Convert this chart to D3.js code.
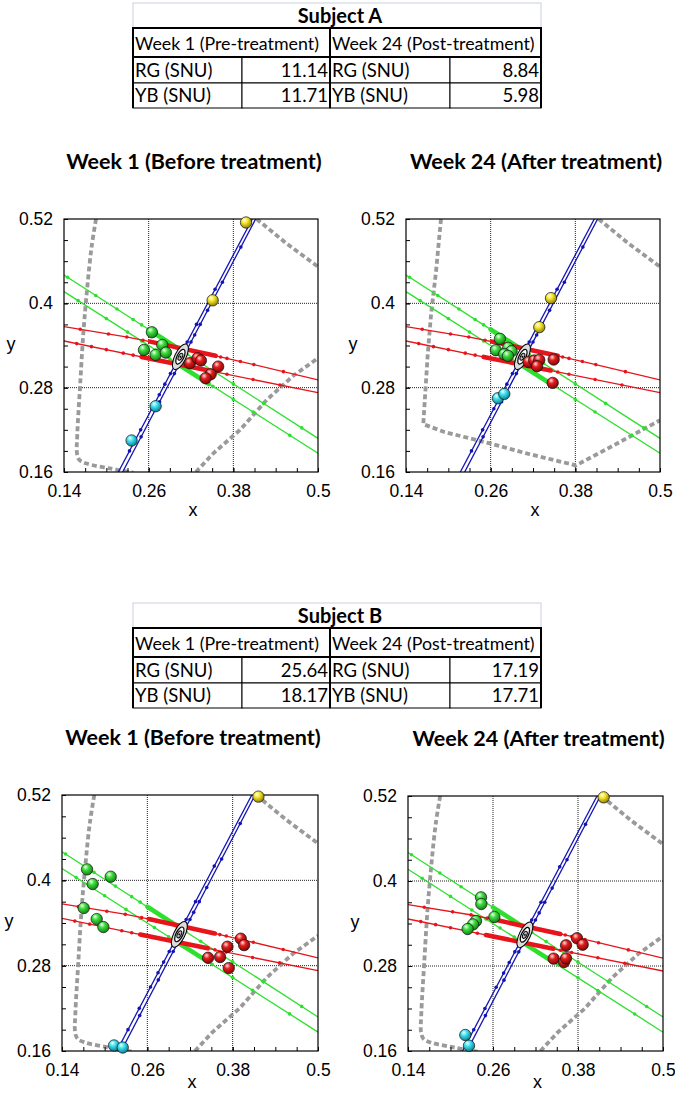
<!DOCTYPE html>
<html>
<head>
<meta charset="utf-8">
<script src="https://cdnjs.cloudflare.com/ajax/libs/d3/7.8.5/d3.min.js"></script>
<style>
  body { margin: 0; background: #fff; }
  svg text { fill: #000; }
</style>
</head>
<body>
<div id="chart"></div>
<script>

// ---- table values ----
var subjects = ['Subject A', 'Subject B'];
var weekHeaders = ['Week 1 (Pre-treatment)', 'Week 24 (Post-treatment)'];
var rowLabels = ['RG (SNU)', 'YB (SNU)'];
var subjectAWeek1 = [11.14, 11.71];
var subjectAWeek24 = [8.84, 5.98];
var subjectBWeek1 = [25.64, 18.17];
var subjectBWeek24 = [17.19, 17.71];

// ---- chart axes ----
var plotTitles = ['Week 1 (Before treatment)', 'Week 24 (After treatment)'];
var xTicks = [0.14, 0.26, 0.38, 0.5];
var yTicks = [0.16, 0.28, 0.4, 0.52];
var gridX = [0.26, 0.38];
var gridY = [0.28, 0.4];

// ---- confusion lines (same in every panel) ----
var redUpper = [[0.14, 0.3668], [0.23, 0.352], [0.304, 0.337], [0.40, 0.315], [0.5, 0.291]];
var redLower = [[0.14, 0.3464], [0.30, 0.3135], [0.5, 0.2729]];
var greenUpper = [[0.14, 0.4403], [0.5, 0.2079]];
var greenLower = [[0.14, 0.4166], [0.5, 0.1866]];
var blueLeft = [[0.217, 0.16], [0.4069, 0.52]];
var blueRight = [[0.2231, 0.16], [0.4116, 0.52]];

var redUpperDots = [0.163, 0.203, 0.229, 0.252, 0.266, 0.353, 0.362, 0.371, 0.390, 0.409, 0.451];
var redLowerDots = [0.158, 0.179, 0.2, 0.224, 0.238, 0.252, 0.342, 0.355, 0.371, 0.408, 0.446];
var greenUpperDots = [0.145, 0.185, 0.215, 0.238, 0.25, 0.315, 0.335, 0.38, 0.423, 0.477];
var greenLowerDots = [0.16, 0.2, 0.23, 0.25, 0.27, 0.29, 0.351, 0.38, 0.408, 0.46];
var blueLeftDots = [0.19, 0.22, 0.25, 0.27, 0.285, 0.30, 0.31, 0.345, 0.37, 0.42];
var blueRightDots = [0.21, 0.26, 0.30, 0.335, 0.345, 0.355, 0.37, 0.39, 0.43, 0.48];

var redUpperBand = [0.262, 0.355];
var redLowerBand = [0.25, 0.345];
var greenUpperBand = [0.26, 0.305];
var greenLowerBand = [0.305, 0.345];

var whitePoint = [0.305, 0.324];

// ---- gamut boundaries (grey dotted) ----
var boundaryLeft = [[0.1854, 0.52], [0.1792, 0.481], [0.1731, 0.424], [0.1674, 0.357], [0.1627, 0.281],
  [0.1589, 0.215], [0.1585, 0.186], [0.162, 0.177], [0.1721, 0.172], [0.2052, 0.165], [0.2383, 0.159]];
var boundaryLowerRight = [[0.327, 0.16], [0.3517, 0.1866], [0.3894, 0.2198], [0.4272, 0.2625], [0.465, 0.297], [0.5, 0.322]];
var boundaryTopRight = [[0.413, 0.52], [0.4555, 0.485], [0.5, 0.452]];
var boundaryA24 = [[0.1896, 0.52], [0.1825, 0.445], [0.1754, 0.383], [0.1707, 0.326], [0.1645, 0.228],
  [0.1943, 0.217], [0.2604, 0.2003], [0.3123, 0.1861], [0.3807, 0.1694], [0.4256, 0.1932], [0.5, 0.2336]];

// ---- subject points ----
var aW1Green = [[0.2646, 0.3588], [0.2793, 0.3408], [0.2533, 0.3337], [0.2698, 0.3266], [0.2844, 0.3299]];
var aW1Red = [[0.3184, 0.3148], [0.3293, 0.3219], [0.334, 0.3186], [0.3585, 0.31], [0.3479, 0.2991], [0.3407, 0.2934]];
var aW1Yellow = [[0.398, 0.515], [0.3507, 0.4043]];
var aW1Cyan = [[0.2699, 0.2536], [0.2358, 0.2048]];

var aW24Green = [[0.2731, 0.3495], [0.2674, 0.3333], [0.2849, 0.3367], [0.2896, 0.3319], [0.2792, 0.3276], [0.2844, 0.3253]];
var aW24Red = [[0.3138, 0.3167], [0.3218, 0.3186], [0.3289, 0.3195], [0.3257, 0.3105], [0.3493, 0.32], [0.3479, 0.2868]];
var aW24Yellow = [[0.3455, 0.4074], [0.3289, 0.3661]];
var aW24Cyan = [[0.2703, 0.2649], [0.2793, 0.2711]];

var bW1Green = [[0.1752, 0.4154], [0.2085, 0.4051], [0.1831, 0.3948], [0.1705, 0.361], [0.1888, 0.3455], [0.1982, 0.3343]];
var bW1Red = [[0.3914, 0.3179], [0.3961, 0.3089], [0.3726, 0.3066], [0.3454, 0.2911], [0.3623, 0.2921], [0.3745, 0.2766]];
var bW1Yellow = [[0.4162, 0.5177]];
var bW1Cyan = [[0.2132, 0.1678], [0.2254, 0.1649]];

var bW24Green = [[0.2431, 0.3769], [0.2435, 0.3675], [0.2619, 0.3492], [0.236, 0.3435], [0.2318, 0.3388], [0.2242, 0.3322]];
var bW24Red = [[0.3786, 0.3191], [0.3866, 0.3101], [0.3631, 0.3092], [0.3456, 0.2904], [0.3602, 0.2856], [0.3631, 0.2908]];
var bW24Yellow = [[0.4162, 0.5181]];
var bW24Cyan = [[0.2209, 0.1826], [0.2261, 0.1675]];


var svg = d3.select('#chart').append('svg')
  .attr('width', 675).attr('height', 1095);
var defs = svg.append('defs');

var sphereColors = {
  green: ['#f0fff0', '#3cdc3c', '#137a13'],
  red: ['#ffe0e0', '#e41c1c', '#7a0606'],
  yellow: ['#fffff0', '#f6e62a', '#8a7a06'],
  cyan: ['#f0ffff', '#3ce0f0', '#0d7888']
};
Object.keys(sphereColors).forEach(function(k) {
  var c = sphereColors[k];
  var grad = defs.append('radialGradient').attr('id', 'sph-' + k)
    .attr('cx', '0.42').attr('cy', '0.36').attr('r', '0.66')
    .attr('fx', '0.36').attr('fy', '0.28');
  grad.append('stop').attr('offset', '0').attr('stop-color', c[0]);
  grad.append('stop').attr('offset', '0.4').attr('stop-color', c[1]);
  grad.append('stop').attr('offset', '1').attr('stop-color', c[2]);
});

var tableFont = 'Lato, "Open Sans", sans-serif';
var axisFont = '"Liberation Sans", Arial, sans-serif';

function drawTable(top, title, week1, week24) {
  var cols = [133, 242, 330, 450, 541];
  var rows = [top + 28, top + 57, top + 83, top + 108];
  var g = svg.append('g');

  g.append('rect').attr('x', cols[0]).attr('y', top + 3)
    .attr('width', cols[4] - cols[0]).attr('height', 25)
    .attr('fill', '#fff').attr('stroke', '#c9d0dc').attr('stroke-width', 1);
  g.append('text').attr('x', (cols[0] + cols[4]) / 2 + 3).attr('y', top + 23)
    .attr('text-anchor', 'middle').style('font-family', tableFont)
    .style('font-weight', 'bold').style('font-size', '20px').text(title);

  // data cells
  [week1, week24].forEach(function(vals, h) {
    vals.forEach(function(v, r) {
      var xl = cols[h * 2], xm = cols[h * 2 + 1], xr = cols[h * 2 + 2];
      var y0 = rows[r + 1], y1 = rows[r + 2];
      g.append('rect').attr('x', xl).attr('y', y0).attr('width', xm - xl).attr('height', y1 - y0)
        .attr('fill', '#fff').attr('stroke', '#000').attr('stroke-width', 1);
      g.append('rect').attr('x', xm).attr('y', y0).attr('width', xr - xm).attr('height', y1 - y0)
        .attr('fill', '#fff').attr('stroke', '#000').attr('stroke-width', 1);
      g.append('text').attr('x', xl + 2).attr('y', y1 - 6)
        .style('font-family', tableFont).style('font-size', '18.5px').text(rowLabels[r]);
      g.append('text').attr('x', xr - 2).attr('y', y1 - 6).attr('text-anchor', 'end')
        .style('font-family', tableFont).style('font-size', '18.5px').text(v.toFixed(2));
    });
  });
  // outer and divider lines slightly heavier
  [cols[0], cols[2], cols[4]].forEach(function(cx) {
    g.append('line').attr('x1', cx).attr('x2', cx).attr('y1', rows[1]).attr('y2', rows[3])
      .attr('stroke', '#000').attr('stroke-width', 2);
  });

  // header cells
  weekHeaders.forEach(function(t, h) {
    var xl = cols[h * 2], xr = cols[h * 2 + 2];
    g.append('rect').attr('x', xl).attr('y', rows[0]).attr('width', xr - xl).attr('height', rows[1] - rows[0])
      .attr('fill', '#fff').attr('stroke', '#000').attr('stroke-width', 2);
    g.append('text').attr('x', xl + 2).attr('y', rows[1] - 7)
      .style('font-family', tableFont).style('font-size', '17.8px').text(t);
  });
}

drawTable(0, subjects[0], subjectAWeek1, subjectAWeek24);
drawTable(600, subjects[1], subjectBWeek1, subjectBWeek24);

function interpX(pts, xv) {
  for (var i = 0; i < pts.length - 1; i++) {
    var a = pts[i], b = pts[i + 1];
    if (xv >= a[0] && xv <= b[0]) return [xv, a[1] + (b[1] - a[1]) * (xv - a[0]) / (b[0] - a[0])];
  }
  return pts[pts.length - 1];
}
function interpY(pts, yv) {
  var a = pts[0], b = pts[1];
  return [a[0] + (b[0] - a[0]) * (yv - a[1]) / (b[1] - a[1]), yv];
}

var panels = [
  { box: [64, 318, 219, 472], xLab: 44, title: plotTitles[0], green: aW1Green, red: aW1Red, yellow: aW1Yellow, cyan: aW1Cyan,
    bounds: [boundaryLeft, boundaryLowerRight, boundaryTopRight], smooth: true },
  { box: [406, 660, 219, 472], xLab: 44, title: plotTitles[1], green: aW24Green, red: aW24Red, yellow: aW24Yellow, cyan: aW24Cyan,
    bounds: [boundaryA24, boundaryTopRight], smooth: false },
  { box: [62, 318, 795, 1051], xLab: 37, title: plotTitles[0], green: bW1Green, red: bW1Red, yellow: bW1Yellow, cyan: bW1Cyan,
    bounds: [boundaryLeft, boundaryLowerRight, boundaryTopRight], smooth: true },
  { box: [408, 663, 796, 1051], xLab: 37, title: plotTitles[1], green: bW24Green, red: bW24Red, yellow: bW24Yellow, cyan: bW24Cyan,
    bounds: [boundaryLeft, boundaryLowerRight, boundaryTopRight], smooth: true }
];

panels.forEach(function(p, idx) {
  var x0 = p.box[0], x1 = p.box[1], y0 = p.box[2], y1 = p.box[3];
  var x = d3.scaleLinear().domain([0.14, 0.5]).range([x0, x1]);
  var y = d3.scaleLinear().domain([0.16, 0.52]).range([y1, y0]);
  var g = svg.append('g');

  defs.append('clipPath').attr('id', 'clip' + idx).append('rect')
    .attr('x', x0).attr('y', y0).attr('width', x1 - x0).attr('height', y1 - y0);

  // title
  g.append('text').attr('x', (x0 + x1) / 2 + 3).attr('y', y0 - 50)
    .attr('text-anchor', 'middle').style('font-family', tableFont)
    .style('font-weight', 'bold').style('font-size', '21.5px').text(p.title);

  // grid
  gridX.forEach(function(v) {
    g.append('line').attr('x1', x(v)).attr('x2', x(v)).attr('y1', y0).attr('y2', y1)
      .attr('stroke', '#222').attr('stroke-width', 1).attr('stroke-dasharray', '1,1');
  });
  gridY.forEach(function(v) {
    g.append('line').attr('x1', x0).attr('x2', x1).attr('y1', y(v)).attr('y2', y(v))
      .attr('stroke', '#222').attr('stroke-width', 1).attr('stroke-dasharray', '1,1');
  });

  var plot = g.append('g').attr('clip-path', 'url(#clip' + idx + ')');
  var line = d3.line().x(function(d) { return x(d[0]); }).y(function(d) { return y(d[1]); });

  // grey gamut boundaries
  p.bounds.forEach(function(b, i) {
    var gen = d3.line().x(function(d) { return x(d[0]); }).y(function(d) { return y(d[1]); })
      .curve(p.smooth && i === 0 ? d3.curveCatmullRom.alpha(0.5) : d3.curveLinear);
    plot.append('path').attr('d', gen(b)).attr('fill', 'none')
      .attr('stroke', '#9a9a9a').attr('stroke-width', 3.8).attr('stroke-dasharray', '5,3');
  });

  // confusion lines
  function confusion(pts, dots, band, color, byY) {
    plot.append('path').attr('d', line(pts)).attr('fill', 'none')
      .attr('stroke', color).attr('stroke-width', 1.3);
    if (band) {
      var a = interpX(pts, band[0]), b = interpX(pts, band[1]);
      plot.append('path').attr('d', line([a, b])).attr('fill', 'none')
        .attr('stroke', color).attr('stroke-width', 4.6).attr('stroke-linecap', 'round');
    }
    plot.selectAll(null).data(dots).enter().append('circle')
      .attr('cx', function(d) { return x((byY ? interpY(pts, d) : interpX(pts, d))[0]); })
      .attr('cy', function(d) { return y((byY ? interpY(pts, d) : interpX(pts, d))[1]); })
      .attr('r', 1.8).attr('fill', color);
  }
  confusion(greenUpper, greenUpperDots, greenUpperBand, '#2ee02e');
  confusion(greenLower, greenLowerDots, greenLowerBand, '#2ee02e');
  confusion(redUpper, redUpperDots, redUpperBand, '#e8141b');
  confusion(redLower, redLowerDots, redLowerBand, '#e8141b');
  confusion(blueLeft, blueLeftDots, null, '#1414b4', true);
  confusion(blueRight, blueRightDots, null, '#1414b4', true);

  // threshold ellipse at the white point
  var eg = g.append('g').attr('transform', 'translate(' + x(whitePoint[0]) + ',' + y(whitePoint[1]) + ') rotate(-64)');
  eg.append('ellipse').attr('rx', 14).attr('ry', 5.6).attr('fill', '#dcdcdc').attr('stroke', '#000').attr('stroke-width', 1);
  eg.append('ellipse').attr('rx', 8).attr('ry', 3.4).attr('fill', '#fafafa').attr('stroke', '#000').attr('stroke-width', 1.2);
  eg.append('ellipse').attr('rx', 3.8).attr('ry', 1.9).attr('fill', '#bbb').attr('stroke', '#000').attr('stroke-width', 1);
  eg.append('circle').attr('r', 0.9).attr('fill', '#000');

  // frame
  g.append('rect').attr('x', x0).attr('y', y0).attr('width', x1 - x0).attr('height', y1 - y0)
    .attr('fill', 'none').attr('stroke', '#000').attr('stroke-width', 1.2);

  // axes
  var minorX = d3.range(0.14, 0.5001, 0.03), minorY = d3.range(0.16, 0.5201, 0.03);
  var ax = g.append('g').attr('transform', 'translate(0,' + y1 + ')')
    .call(d3.axisBottom(x).tickValues(minorX).tickSize(-4).tickFormat(''));
  var ax2 = g.append('g').attr('transform', 'translate(0,' + y1 + ')')
    .call(d3.axisBottom(x).tickValues(xTicks).tickSize(-4).tickPadding(13).tickFormat(function(d) { return String(d); }));
  var ay = g.append('g').attr('transform', 'translate(' + x0 + ',0)')
    .call(d3.axisLeft(y).tickValues(minorY).tickSize(-4).tickFormat(''));
  var ay2 = g.append('g').attr('transform', 'translate(' + x0 + ',0)')
    .call(d3.axisLeft(y).tickValues(yTicks).tickSize(-4).tickPadding(11).tickFormat(function(d) { return String(d); }));
  [ax, ax2, ay, ay2].forEach(function(a) {
    a.select('.domain').remove();
    a.selectAll('line').attr('stroke', '#000');
    a.selectAll('text').style('font-family', axisFont).style('font-size', '17.5px').attr('fill', '#000');
  });

  g.append('text').attr('x', (x0 + x1) / 2 + 2).attr('y', y1 + p.xLab).attr('text-anchor', 'middle')
    .style('font-family', axisFont).style('font-size', '18px').text('x');
  g.append('text').attr('x', x0 - 53).attr('y', (y0 + y1) / 2 + 4).attr('text-anchor', 'middle')
    .style('font-family', axisFont).style('font-size', '18px').text('y');

  // measured points
  [['green', p.green], ['red', p.red], ['yellow', p.yellow], ['cyan', p.cyan]].forEach(function(s) {
    g.selectAll(null).data(s[1]).enter().append('circle')
      .attr('cx', function(d) { return x(d[0]); })
      .attr('cy', function(d) { return y(d[1]); })
      .attr('r', 5.7)
      .attr('fill', 'url(#sph-' + s[0] + ')')
      .attr('stroke', '#111').attr('stroke-width', 0.7);
  });
});

</script>
</body>
</html>
